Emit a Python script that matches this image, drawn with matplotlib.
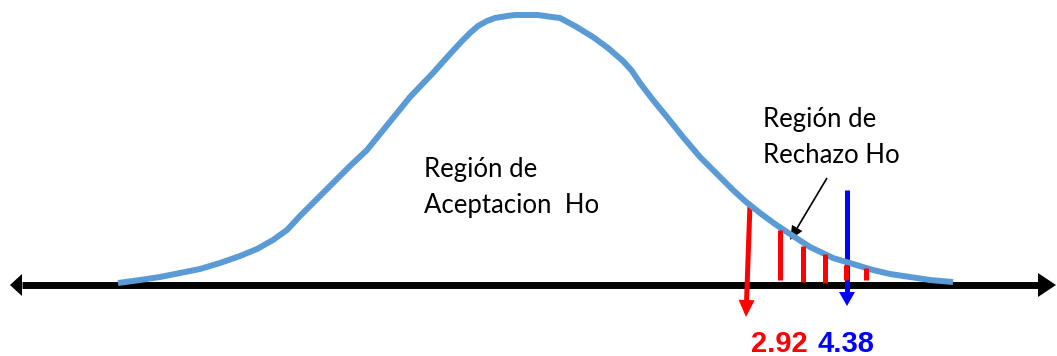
import matplotlib.pyplot as plt

# Canvas in pixel units (y grows downward)
W, H = 1057, 356

# Density curve traced as (x, y) points
curve_x = [118, 140, 160, 180, 200, 220, 240, 257, 273, 287, 300, 317, 333,
           350, 367, 380, 393, 410, 433, 450, 462, 470, 478, 487, 495, 507,
           515, 527, 538, 545, 552, 560, 575, 593, 608, 623, 632, 640, 653,
           667, 683, 700, 717, 733, 745, 760, 775, 790, 810, 833, 853, 873,
           890, 910, 930, 953]
curve_y = [283, 280, 277, 273, 269, 263, 256, 249, 240, 230, 216, 199, 183,
           166, 150, 134, 118, 97, 73, 54, 41, 33, 26, 21, 18, 16,
           15, 15, 15, 16, 17, 18, 26, 37, 48, 61, 71, 83, 100,
           117, 137, 157, 174, 190, 201, 213, 224, 234, 247, 258, 264, 270,
           274, 277, 280, 282]

# Critical and observed values
critical_value = 2.92
observed_value = 4.38

# Red hatch marks under the tail: x, top, bottom
hatch_x = [780, 803, 825, 846, 866]
hatch_top = [230, 246, 254, 265, 268]
hatch_bottom = [280, 282, 283, 280, 280]

axis_y = 285


def arrow(ax, x0, y0, x1, y1, color, lw, head_len, head_w):
    # shaft up to the head base, then a filled triangular head
    dx, dy = x1 - x0, y1 - y0
    n = (dx ** 2 + dy ** 2) ** 0.5
    ux, uy = dx / n, dy / n
    bx, by = x1 - ux * head_len, y1 - uy * head_len
    ax.plot([x0, bx], [y0, by], color=color, lw=lw, solid_capstyle="butt")
    px, py = -uy * head_w / 2, ux * head_w / 2
    ax.fill([x1, bx + px, bx - px], [y1, by + py, by - py], color=color, lw=0)


fig = plt.figure(figsize=(W / 100, H / 100), dpi=100)
ax = fig.add_axes([0, 0, 1, 1])
ax.set_xlim(0, W)
ax.set_ylim(H, 0)
ax.axis("off")

# horizontal axis with arrowheads on both sides
ax.plot([22, 1038], [axis_y, axis_y], color="black", lw=5, solid_capstyle="butt", zorder=2)
ax.fill([10, 22, 22], [axis_y, axis_y - 11, axis_y + 11], color="black", lw=0)
ax.fill([1056, 1038, 1038], [axis_y, axis_y - 12, axis_y + 12], color="black", lw=0)

ax.plot(curve_x, curve_y, color="#5B9BD5", lw=4.3, solid_joinstyle="round",
        solid_capstyle="butt", zorder=3)

for x, t, b in zip(hatch_x, hatch_top, hatch_bottom):
    ax.plot([x, x], [t, b], color="red", lw=3.6, solid_capstyle="butt", zorder=4)

arrow(ax, 750, 204, 746, 317, "red", 3.6, 17, 16)
arrow(ax, 847, 190, 847, 306, "blue", 3.6, 14, 16)
arrow(ax, 827, 178, 790, 240, "black", 1.2, 14, 12)

text_font = ["Lato", "DejaVu Sans"]
ax.text(424, 177, "Región de", fontsize=18.5, family=text_font, va="baseline")
ax.text(424, 213, "Aceptacion  Ho", fontsize=18.5, family=text_font, va="baseline")
ax.text(763, 127, "Región de", fontsize=18.5, family=text_font, va="baseline")
ax.text(763, 163, "Rechazo Ho", fontsize=18.5, family=text_font, va="baseline")

num_font = ["Liberation Sans", "DejaVu Sans"]
ax.text(779, 352, f"{critical_value:.2f}", color="red", fontsize=21, fontweight="bold",
        family=num_font, ha="center", va="baseline")
ax.text(846, 352, f"{observed_value:.2f}", color="blue", fontsize=21, fontweight="bold",
        family=num_font, ha="center", va="baseline")

fig.savefig("out.png", dpi=100)
